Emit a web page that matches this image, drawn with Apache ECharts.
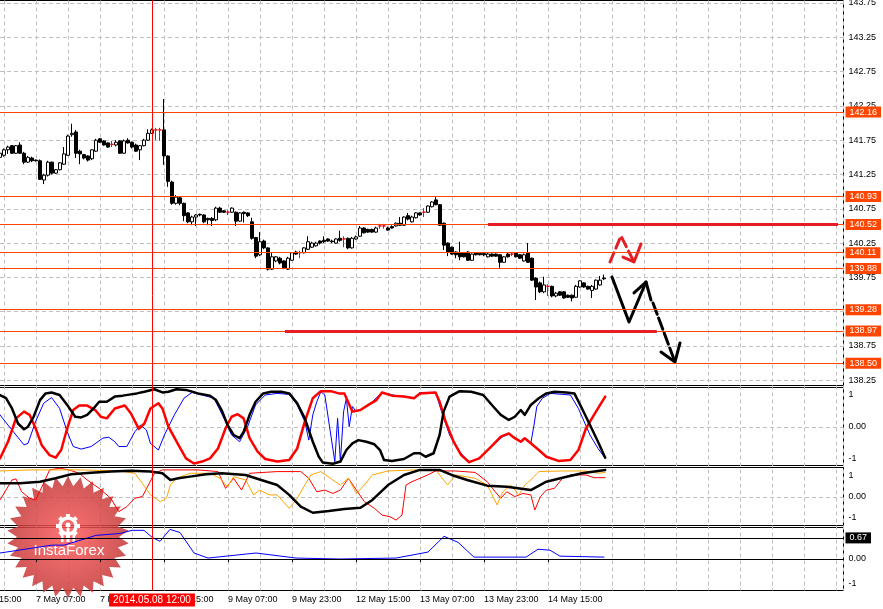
<!DOCTYPE html>
<html><head><meta charset="utf-8">
<script src="https://cdn.jsdelivr.net/npm/echarts@6/dist/echarts.min.js"></script>
<style>html,body{margin:0;padding:0;background:#fff;}#c{width:883px;height:609px;}</style>
</head><body><div id="c"></div>
<script>
// ================= DATA =================
// H1 bars, first visible bar = 2014.05.06 22:00 (bar 0). Axis slot = bar + BAR_OFFSET (slot 0 = 6 May 15:00)
const BAR_OFFSET = 7;
const xTickLabels = ['6 May 15:00','7 May 07:00','7 May 23:00','8 May 15:00','9 May 07:00','9 May 23:00','12 May 15:00','13 May 07:00','13 May 23:00','14 May 15:00'];
const xTickStep = 16;   // bars between time labels
const priceTicks = [138.25,138.75,139.25,139.75,140.25,140.75,141.25,141.75,142.25,142.75,143.25,143.75];
// [open, close, low, high]
const candles = [
[141.50,141.56,141.47,141.58],[141.53,141.61,141.51,141.63],[141.61,141.65,141.55,141.67],[141.67,141.56,141.55,141.68],[141.56,141.67,141.55,141.68],
[141.68,141.56,141.55,141.72],[141.56,141.43,141.40,141.58],[141.43,141.50,141.42,141.52],[141.49,141.45,141.43,141.51],[141.46,141.45,141.44,141.47],
[141.45,141.18,141.17,141.47],[141.17,141.24,141.11,141.26],[141.24,141.43,141.22,141.45],[141.43,141.27,141.25,141.44],[141.27,141.32,141.26,141.33],
[141.32,141.42,141.31,141.43],[141.40,141.55,141.39,141.65],[141.53,141.81,141.52,141.83],[141.83,141.85,141.80,141.99],[141.87,141.56,141.49,141.90],
[141.59,141.55,141.40,141.61],[141.54,141.49,141.47,141.55],[141.52,141.46,141.44,141.53],[141.48,141.61,141.46,141.62],[141.59,141.75,141.58,141.77],
[141.77,141.72,141.71,141.78],[141.74,141.68,141.67,141.75],[141.71,141.65,141.64,141.72],[141.69,141.69,141.65,141.74],[141.68,141.72,141.66,141.75],
[141.74,141.56,141.55,141.75],[141.56,141.74,141.55,141.76],[141.75,141.71,141.70,141.78],[141.72,141.65,141.63,141.73],[141.68,141.59,141.58,141.70],
[141.61,141.67,141.46,141.68],[141.67,141.75,141.66,141.77],[141.75,141.85,141.74,141.91],[141.85,141.90,141.84,141.92],[141.90,141.90,141.75,141.93],
[141.90,141.90,141.74,141.93],[141.90,141.52,141.39,142.35],[141.52,141.15,141.07,141.53],[141.14,140.83,140.81,141.16],[140.83,140.92,140.81,140.95],
[140.91,140.83,140.80,140.93],[140.83,140.65,140.57,140.84],[140.69,140.56,140.54,140.70],[140.56,140.63,140.51,140.65],[140.63,140.66,140.50,140.67],
[140.67,140.66,140.64,140.68],[140.66,140.56,140.54,140.67],[140.61,140.59,140.51,140.62],[140.61,140.58,140.50,140.63],[140.59,140.76,140.57,140.78],
[140.76,140.70,140.69,140.78],[140.72,140.70,140.69,140.73],[140.70,140.70,140.66,140.73],[140.70,140.76,140.69,140.77],[140.70,140.57,140.50,140.71],
[140.57,140.69,140.56,140.70],[140.70,140.68,140.55,140.71],[140.69,140.65,140.63,140.70],[140.56,140.32,140.30,140.62],[140.33,140.06,140.03,140.34],
[140.08,140.27,140.06,140.41],[140.28,140.18,140.16,140.30],[140.18,139.87,139.85,140.19],[139.87,140.05,139.86,140.12],[139.99,140.05,139.97,140.06],
[140.03,139.96,139.94,140.05],[139.99,139.89,139.87,140.00],[139.87,140.03,139.86,140.05],[140.00,140.11,139.99,140.12],[140.12,140.09,140.08,140.14],
[140.11,140.11,140.03,140.14],[140.11,140.18,140.10,140.19],[140.16,140.27,140.15,140.35],[140.19,140.25,140.18,140.27],[140.21,140.25,140.20,140.27],
[140.28,140.25,140.23,140.29],[140.29,140.27,140.25,140.35],[140.31,140.28,140.27,140.32],[140.28,140.27,140.25,140.30],[140.25,140.31,140.24,140.32],
[140.32,140.29,140.27,140.43],[140.31,140.31,140.19,140.35],[140.32,140.18,140.16,140.33],[140.18,140.32,140.17,140.34],[140.31,140.34,140.30,140.36],
[140.35,140.47,140.34,140.50],[140.47,140.40,140.39,140.48],[140.45,140.41,140.40,140.46],[140.45,140.41,140.40,140.46],[140.41,140.47,140.40,140.49],
[140.50,140.50,140.46,140.53],[140.50,140.50,140.46,140.53],[140.47,140.44,140.43,140.49],[140.49,140.47,140.46,140.51],[140.50,140.54,140.49,140.55],
[140.54,140.51,140.50,140.63],[140.51,140.63,140.50,140.64],[140.65,140.60,140.58,140.69],[140.56,140.63,140.55,140.65],[140.62,140.69,140.61,140.70],
[140.69,140.66,140.65,140.70],[140.70,140.70,140.63,140.76],[140.70,140.79,140.69,140.80],[140.78,140.85,140.77,140.86],[140.88,140.81,140.80,140.92],
[140.81,140.51,140.50,140.82],[140.54,140.22,140.15,140.55],[140.25,140.12,140.06,140.26],[140.19,140.09,140.08,140.20],[140.12,140.08,140.03,140.13],
[140.11,140.05,140.00,140.27],[140.11,140.05,140.04,140.12],[140.12,140.00,139.99,140.13],[140.00,140.09,139.99,140.10],[140.11,140.08,140.07,140.12],
[140.10,140.08,140.07,140.12],[140.10,140.08,140.06,140.12],[140.05,140.09,140.04,140.11],[140.09,140.06,140.05,140.10],[140.09,140.06,140.05,140.10],
[140.08,139.97,139.89,140.09],[139.97,140.05,139.96,140.06],[140.09,140.05,140.04,140.11],[140.09,140.09,140.06,140.12],[140.11,140.05,140.04,140.12],
[140.08,140.03,140.02,140.09],[139.99,140.08,139.98,140.10],[140.11,139.97,139.96,140.25],[140.03,139.71,139.70,140.04],[139.74,139.61,139.42,139.75],
[139.67,139.54,139.52,139.69],[139.54,139.64,139.52,139.76],[139.62,139.62,139.48,139.65],[139.62,139.48,139.46,139.63],[139.48,139.52,139.46,139.54],
[139.54,139.49,139.48,139.55],[139.54,139.45,139.44,139.55],[139.49,139.46,139.45,139.50],[139.49,139.45,139.40,139.50],[139.46,139.62,139.45,139.64],
[139.61,139.70,139.60,139.71],[139.67,139.61,139.60,139.68],[139.62,139.58,139.57,139.63],[139.56,139.62,139.45,139.64],[139.58,139.71,139.57,139.72],
[139.64,139.71,139.63,139.77],[139.74,139.73,139.71,139.79]
];
const levelLines = [142.16,140.93,140.52,140.11,139.88,139.28,138.97,138.50];
const lastPrice = 139.73;
// thick red trend segments: [[bar, price],[bar, price]]
const trendSegments = [[[122,140.52],[209.5,140.52]],[[71.25,138.97],[164.2,138.97]]];
// forecast arrows [bar, price]
const redPath  = [[152.5,139.975],[155.25,140.353],[158.5,139.975]];
const redHead  = [[155.75,140.047],[158.5,139.975],[160.25,140.237]];
const blkPath  = [[153,139.756],[157.25,139.10],[161.5,139.683]];
const blkHead  = [[158.5,139.523],[161.5,139.683],[162.75,139.42]];
const blkDash  = [[163.25,139.377],[168.75,138.517]];
const blkDashHead = [[165.25,138.663],[168.75,138.517],[170,138.794]];
const markerBar = 38, markerLabel = '2014.05.08 12:00';
// oscillator panel 2 [bar, value]
const osc2Black = [[0,1.0],[1.5,0.9],[3,0.58],[4.5,0.11],[6,-0.07],[7,0.01],[8.4,0.32],[10,0.84],[11.4,1.05],[12.9,1.08],[14.9,1.0],[16.8,0.69],[18.8,0.32],[20.3,0.30],[21.8,0.38],[23.8,0.64],[24.8,0.79],[26.7,0.79],[28.7,0.95],[30.7,0.98],[32.7,1.02],[34.2,1.05],[36.1,1.10],[38.6,1.18],[40.6,1.08],[42.1,1.10],[44.1,1.18],[46.5,1.16],[49.5,1.05],[52.5,0.98],[54,0.84],[55.4,0.53],[56.9,0.06],[58.4,-0.25],[59.9,-0.35],[60.9,-0.15],[62.4,0.38],[63.9,0.79],[65.8,1.05],[67.8,1.10],[70.3,1.10],[72.3,1.05],[74.3,0.74],[76.2,0.27],[78.2,-0.46],[79.7,-0.93],[80.7,-1.11],[83.2,-1.15],[85.1,-1.08],[86.6,-0.72],[88.1,-0.51],[89.6,-0.41],[91.6,-0.46],[93.6,-0.54],[95,-0.72],[96,-1.03],[98,-1.06],[101,-1.0],[103.5,-0.82],[105,-0.82],[106.4,-0.93],[108.4,-0.82],[109.9,-0.25],[110.9,0.48],[112.4,0.95],[114.9,1.12],[117.8,1.10],[120.8,1.0],[123.3,0.64],[125.2,0.38],[127.2,0.22],[128.7,0.32],[130.2,0.53],[131.2,0.38],[132.7,0.69],[134.7,0.9],[136.6,1.05],[138.6,1.10],[141.6,1.08],[143.6,1.05],[145.5,0.58],[147.5,0.06],[149.5,-0.46],[151.3,-0.96]];
const osc2Red = [[0,-0.98],[2,-0.46],[4,0.27],[6,0.48],[7.4,0.38],[8.9,-0.04],[10.4,-0.56],[12.4,-0.88],[13.9,-0.96],[15.3,-0.72],[16.8,-0.04],[18.3,0.53],[19.8,0.67],[21.8,0.67],[23.8,0.53],[25.2,0.32],[26.7,0.27],[28.7,0.58],[31.2,0.67],[32.7,0.43],[34.7,-0.06],[36.1,0.11],[37.6,0.58],[39.6,0.74],[40.6,0.58],[42.1,0.01],[44.6,-0.56],[46.5,-0.98],[48.5,-1.14],[50.5,-1.08],[52.5,-0.98],[54.5,-0.67],[56.4,-0.04],[57.9,0.32],[59.4,0.40],[60.9,0.27],[62.4,-0.35],[64.4,-0.77],[66.3,-1.0],[69.3,-1.08],[72.3,-1.03],[74.3,-0.67],[76.2,0.17],[78.2,0.9],[80.2,1.12],[82.7,1.12],[84.7,1.05],[86.1,1.05],[88.1,0.48],[90.1,0.53],[92.1,0.69],[94.1,0.84],[95.5,1.08],[98,0.98],[101,0.95],[103.5,0.9],[105,1.05],[108.9,1.08],[109.9,0.79],[111.4,0.17],[113.4,-0.46],[115.3,-0.88],[117.3,-1.10],[119.8,-0.98],[122.8,-0.61],[125.2,-0.30],[127.2,-0.2],[128.7,-0.35],[130.2,-0.46],[131.2,-0.35],[132.7,-0.51],[134.7,-0.72],[136.6,-0.93],[139.6,-1.06],[142.6,-1.03],[144.6,-0.72],[146.5,-0.04],[148.5,0.38],[151.3,0.95]];
const osc2Blue = [[0,0.38],[2,0.06],[4,-0.25],[6,-0.56],[7,-0.51],[8.9,0.17],[10.9,0.74],[12.9,0.92],[14.9,0.58],[16.8,-0.15],[18.3,-0.61],[20.3,-0.69],[22.8,-0.61],[25.7,-0.35],[27.2,-0.32],[28.7,-0.46],[29.7,-0.61],[31.7,-0.61],[33.7,-0.15],[35.1,0.06],[36.6,-0.09],[37.6,-0.51],[39.6,-0.72],[41.1,-0.25],[43.6,0.38],[46,0.9],[48,1.08],[50.5,1.0],[53.5,0.9],[56,0.27],[57.9,-0.25],[59.9,-0.46],[61.9,0.01],[63.9,0.69],[66.3,1.0],[69.3,1.05],[72.3,1.02],[74.3,0.69],[76.2,0.17],[77.2,-0.41],[78.2,0.38],[79.2,0.79],[80.2,1.10],[81.2,1.0],[82.7,-0.25],[83.7,-1.08],[84.4,0.27],[85.1,-1.08],[85.9,0.48],[86.6,0.9],[87.3,0.01],[88.1,0.64],[89.1,0.48],[92.1,0.67],[95.5,1.08],[99,0.98],[103.5,0.9],[105,1.08],[108.9,1.08],[110.4,0.48],[112.4,-0.25],[114.9,-0.77],[117.3,-1.10],[119.8,-0.98],[123.3,-0.56],[125.7,-0.30],[127.2,-0.23],[128.7,-0.33],[130.2,-0.44],[131.2,-0.35],[132.7,-0.51],[133.5,0.06],[134.2,0.64],[135.6,0.9],[137.6,1.05],[140.6,1.02],[142.6,1.0],[144.6,0.58],[147.5,-0.25],[149.5,-0.67],[151.3,-0.98]];
// oscillator panel 3
const osc3Black = [[0,0.65],[5,0.65],[10,0.73],[13.9,0.89],[17.8,1.08],[22.8,1.16],[27.7,1.21],[32.7,1.25],[37.6,1.21],[40.6,1.13],[42.6,0.81],[44.6,0.89],[47.5,0.97],[51.5,1.08],[55.4,1.13],[61.4,1.05],[65.3,0.81],[69.3,0.57],[72.3,0.10],[75.2,-0.46],[78.2,-0.75],[82.2,-0.67],[86.1,-0.57],[90.1,-0.51],[93.1,-0.14],[97,0.57],[101,1.05],[105,1.29],[109.9,1.29],[112.9,1.05],[116.8,0.81],[121.8,0.54],[126.7,0.49],[132.7,0.33],[136.6,0.73],[140.6,0.92],[145.5,1.13],[151.3,1.29]];
const osc3Red = [[0,-0.14],[1.5,0.33],[3,0.81],[4,0.86],[5.4,0.25],[7.4,-0.06],[8.9,-0.14],[10.9,0.65],[12.4,1.29],[14.9,1.37],[17.3,1.29],[19.8,1.13],[21.8,0.81],[24.8,0.41],[27.7,-0.06],[29.7,-0.70],[31.7,-0.46],[33.7,-0.06],[35.6,0.02],[37.1,0.57],[38.6,1.13],[40.6,1.29],[49.5,1.29],[54.5,1.21],[56.4,0.41],[58.4,0.89],[60.4,0.33],[62.4,1.13],[69.3,1.21],[75.2,1.21],[77.2,0.89],[79.2,0.25],[81.2,0.33],[83.2,0.17],[85.1,0.33],[87.1,0.89],[89.1,0.33],[91.1,-0.22],[93.6,-0.54],[95.5,-0.86],[97.5,-0.94],[99,-1.10],[100.5,-0.86],[101.5,0.57],[103,0.73],[105,0.89],[106.9,1.05],[108.9,1.24],[113.9,1.24],[118.8,1.17],[121.8,0.73],[123.8,0.25],[125.2,-0.06],[126.7,0.25],[128.7,0.02],[130.7,0.17],[132.7,0.10],[133.7,-0.62],[135.1,0.02],[136.6,0.33],[138.6,0.41],[140.6,0.89],[142.6,1.05],[146.5,1.05],[148.5,0.92],[151.3,0.92]];
const osc3Orange = [[0,1.24],[7.9,1.29],[19.8,1.29],[29.7,1.24],[33.7,1.13],[35.6,0.65],[37.6,0.10],[40.1,-0.22],[41.6,-0.06],[42.6,0.57],[44.1,0.89],[47.5,1.13],[52.5,1.13],[55,0.89],[56.9,0.49],[58.4,0.97],[61.4,0.81],[63.4,0.10],[64.9,0.33],[67.3,0.10],[69.3,0.10],[72.3,-0.54],[74.3,-0.06],[76.2,0.57],[77.7,1.05],[80.2,1.21],[83.2,0.81],[85.1,0.57],[87.1,0.89],[89.1,0.17],[91.1,0.57],[93.1,1.05],[97,1.24],[104,1.29],[108.9,1.29],[111.9,0.57],[113.9,1.05],[118.8,0.89],[121.8,0.57],[124.3,-0.38],[125.7,0.25],[127.7,0.57],[129.7,0.10],[131.2,0.57],[132.7,0.81],[134.7,1.21],[140.6,1.24],[146.5,1.24],[149.5,1.13],[151.3,1.17]];
// oscillator panel 4
const osc4Blue = [[0,0.19],[13,0.44],[16,0.44],[24,0.75],[30,0.81],[33,0.91],[36,0.91],[38,0.69],[40,0.56],[42.5,0.94],[45,0.84],[48.5,0.19],[52,0.03],[64,0.19],[74,0.03],[85,0.0],[99,0.03],[107,0.22],[111,0.72],[114.5,0.53],[118.5,0.06],[131.5,0.06],[134.5,0.31],[137.5,0.28],[140,0.09],[151,0.06]];
const osc4Level = 0.67;

// ================= CHART =================
const FONT = 'Liberation Sans';
const GRID_COL = '#C0C0C0';
const LEVEL_COL = '#FF4500';
const S = BAR_OFFSET;
const XMAX = 217.875;
const toXY = a => a.map(p => [p[0] + S, p[1]]);

const gridBase = {left: -28, right: 39.5, outerBoundsMode: 'none', containLabel: false};
const grids = [
  Object.assign({top: 0.5, height: 590}, gridBase),
  Object.assign({top: 0.5, height: 385, show: true, borderColor: '#000', borderWidth: 1, backgroundColor: 'transparent'}, gridBase),
  Object.assign({top: 387.5, height: 78, show: true, borderColor: '#000', borderWidth: 1, backgroundColor: 'transparent'}, gridBase),
  Object.assign({top: 467.5, height: 58, show: true, borderColor: '#000', borderWidth: 1, backgroundColor: 'transparent'}, gridBase),
  Object.assign({top: 527.5, height: 63, show: true, borderColor: '#000', borderWidth: 1, backgroundColor: 'transparent'}, gridBase)
];

const hiddenX = i => ({type: 'value', gridIndex: i, min: 0, max: XMAX, show: false});
const tickSlots = xTickLabels.map((_, k) => k * xTickStep);
const xAxes = [
  {type: 'value', gridIndex: 0, min: 0, max: XMAX, interval: 8, axisLine: {show: false}, axisTick: {show: false}, axisLabel: {show: false},
   splitLine: {show: true, lineStyle: {color: GRID_COL, type: [4, 3], width: 1}}},
  hiddenX(1), hiddenX(2), hiddenX(3),
  {type: 'value', gridIndex: 4, min: 0, max: XMAX, position: 'bottom', z: 4,
   axisLine: {show: true, lineStyle: {color: '#000', width: 1}},
   axisTick: {show: true, customValues: tickSlots, length: 3, lineStyle: {color: '#000'}},
   axisLabel: {show: true, customValues: tickSlots, formatter: v => xTickLabels[Math.round(v / xTickStep)] || '', align: 'left', color: '#000', fontSize: 9, fontFamily: FONT, margin: 5},
   splitLine: {show: false}}
];

const yLabel = {color: '#000', fontSize: 9, fontFamily: FONT, margin: 5};
const oscFmt = v => v === 0 ? '0.00' : String(v);
const yAxes = [
  {type: 'value', gridIndex: 0, min: 0, max: 1, show: false},
  {type: 'value', gridIndex: 1, position: 'right', min: 143.75 - 382.5 / 68.6, max: 143.75 + 2.5 / 68.6,
   axisLine: {show: true, lineStyle: {color: '#000'}},
   axisTick: {show: true, customValues: priceTicks, length: 4, lineStyle: {color: '#000'}},
   axisLabel: Object.assign({customValues: priceTicks, formatter: v => v.toFixed(2)}, yLabel),
   splitLine: {show: true, lineStyle: {color: GRID_COL, type: [4, 3]}}},
  {type: 'value', gridIndex: 2, position: 'right', min: -38.5 / 32, max: 39.5 / 32,
   axisLine: {show: true, lineStyle: {color: '#000'}},
   axisTick: {show: true, customValues: [0], length: 4, lineStyle: {color: '#000'}},
   axisLabel: Object.assign({customValues: [-1, 0, 1], formatter: oscFmt}, yLabel),
   splitLine: {show: true, lineStyle: {color: GRID_COL, type: [4, 3]}}},
  {type: 'value', gridIndex: 3, position: 'right', min: -28.5 / 21, max: 29.5 / 21,
   axisLine: {show: true, lineStyle: {color: '#000'}},
   axisTick: {show: true, customValues: [0], length: 4, lineStyle: {color: '#000'}},
   axisLabel: Object.assign({customValues: [-1, 0, 1], formatter: oscFmt}, yLabel),
   splitLine: {show: true, lineStyle: {color: GRID_COL, type: [4, 3]}}},
  {type: 'value', gridIndex: 4, position: 'right', min: -1, max: 1,
   axisLine: {show: true, lineStyle: {color: '#000'}},
   axisTick: {show: true, customValues: [0], length: 4, lineStyle: {color: '#000'}},
   axisLabel: Object.assign({customValues: [-1, 0], formatter: v => v === 0 ? '0.00' : '{up|' + v + '}',
     rich: {up: {padding: [0, 0, 14, 0], fontSize: 9, fontFamily: FONT, color: '#000'}}}, yLabel),
   splitLine: {show: true, lineStyle: {color: GRID_COL, type: [4, 3]}}}
];

const candleData = candles.map((c, i) => {
  const item = {value: [i + S, c[0], c[1], c[2], c[3]]};
  if (c[0] === c[1]) item.itemStyle = {color: '#FF0000', color0: '#FF0000', borderColor: '#FF0000', borderColor0: '#FF0000', borderColorDoji: '#FF0000'};
  return item;
});

const boxLabel = bg => ({show: true, position: 'end', distance: 2, formatter: p => Number(p.value).toFixed(2),
  color: '#fff', backgroundColor: bg, padding: [1, 4, 0, 4], lineHeight: 10, fontSize: 9, fontFamily: FONT});

const markData = levelLines.map(v => ({yAxis: v, lineStyle: {color: LEVEL_COL, width: 1, type: 'solid'}, label: boxLabel(LEVEL_COL)}));
markData.push({yAxis: lastPrice, lineStyle: {opacity: 0, width: 0}, label: boxLabel('#000')});
trendSegments.forEach(seg => {
  markData.push([{coord: [seg[0][0] + S, seg[0][1]], lineStyle: {color: '#E31E24', width: 3, type: 'solid'}, label: {show: false}},
                 {coord: [seg[1][0] + S, seg[1][1]]}]);
});

const lineS = (data, xi, color, width, type, extra) => Object.assign({
  type: 'line', xAxisIndex: xi, yAxisIndex: xi, data: toXY(data), symbol: 'none', showSymbol: false,
  silent: true, animation: false, clip: false,
  lineStyle: {color: color, width: width, type: type || 'solid', cap: 'round', join: 'round'}
}, extra || {});

const series = [
  {type: 'line', xAxisIndex: 0, yAxisIndex: 0, data: [[0, 0]], symbol: 'none', silent: true, clip: false,
   lineStyle: {opacity: 0},
   markLine: {silent: true, symbol: ['none', 'none'], z: 10, animation: false,
     lineStyle: {color: '#FF0000', width: 1, type: 'solid'},
     label: {show: true, position: 'start', distance: 3, formatter: markerLabel, color: '#fff', backgroundColor: '#FF0000',
       padding: [2, 4, 1, 4], fontSize: 10, fontFamily: FONT},
     data: [{xAxis: markerBar + S}]}},
  {type: 'candlestick', xAxisIndex: 1, yAxisIndex: 1, dimensions: ['t', 'open', 'close', 'lowest', 'highest'],
   encode: {x: 0, y: [1, 2, 3, 4]}, data: candleData, barWidth: 3, clip: false, silent: true,
   itemStyle: {color: '#FFFFFF', color0: '#000000', borderColor: '#000000', borderColor0: '#000000', borderColorDoji: '#FF0000', borderWidth: 1},
   markLine: {silent: true, symbol: ['none', 'none'], animation: false, data: markData}},
  lineS(redPath, 1, '#E31E24', 3, [10, 5]),
  lineS(redHead, 1, '#E31E24', 3),
  lineS(blkPath, 1, '#000', 3),
  lineS(blkHead, 1, '#000', 3),
  lineS(blkDash, 1, '#000', 3, [12, 4]),
  lineS(blkDashHead, 1, '#000', 3),
  lineS(osc2Blue, 2, '#0000FF', 1),
  lineS(osc2Red, 2, '#FF0000', 2.5),
  lineS(osc2Black, 2, '#000', 2.5),
  lineS(osc3Red, 3, '#FF0000', 1),
  lineS(osc3Orange, 3, '#FFA500', 1),
  lineS(osc3Black, 3, '#000', 2.5),
  lineS(osc4Blue, 4, '#0000FF', 1, null, {
    markLine: {silent: true, symbol: ['none', 'none'], animation: false,
      data: [{yAxis: osc4Level, lineStyle: {color: '#000', width: 1, type: 'solid'},
        label: {show: true, position: 'end', distance: 2, formatter: osc4Level.toFixed(2), color: '#fff', backgroundColor: '#000',
          padding: [1, 4, 0, 4], lineHeight: 10, fontSize: 9, fontFamily: FONT}}]}})
];

// ---- InstaForex logo (decoration) ----
function star(cx, cy, rOut, rIn, n) {
  const pts = [];
  for (let k = 0; k < n * 2; k++) {
    const a = Math.PI * k / n - Math.PI / 2;
    const r = k % 2 === 0 ? rOut : rIn;
    pts.push([cx + r * Math.cos(a), cy + r * Math.sin(a)]);
  }
  return pts;
}
const LX = 68, LY = 537;
const gear = [];
for (let k = 0; k < 8; k++) {
  gear.push({type: 'rect', shape: {x: -2, y: -12, width: 4, height: 5}, rotation: k * Math.PI / 4, x: LX, y: LY - 11,
    style: {fill: '#fff'}, z: 3, silent: true});
}
const graphic = [
  {type: 'polygon', shape: {points: star(LX, LY, 61, 51, 30)}, z: 3, silent: true,
   style: {fill: {type: 'radial', x: 0.5, y: 0.5, r: 0.5, colorStops: [{offset: 0, color: 'rgba(255,90,90,0.85)'}, {offset: 1, color: 'rgba(196,56,56,0.85)'}]}}},
  {type: 'circle', shape: {cx: LX, cy: LY - 11, r: 8}, z: 3, silent: true, style: {fill: 'none', stroke: '#fff', lineWidth: 3.5}},
  ...gear,
  {type: 'circle', shape: {cx: LX, cy: LY - 12, r: 2.5}, z: 3, silent: true, style: {fill: '#fff'}},
  {type: 'rect', shape: {x: LX - 1.5, y: LY - 9, width: 3, height: 14}, z: 3, silent: true, style: {fill: '#fff'}},
  {type: 'rect', shape: {x: LX - 7, y: LY - 5, width: 2.5, height: 10}, z: 3, silent: true, style: {fill: '#fff'}},
  {type: 'rect', shape: {x: LX + 4.5, y: LY - 5, width: 2.5, height: 10}, z: 3, silent: true, style: {fill: '#fff'}},
  {type: 'text', x: LX + 1, y: LY + 14, z: 3, silent: true,
   style: {text: 'InstaForex', fill: '#fff', font: '15px "Liberation Sans"', align: 'center', verticalAlign: 'middle', textAlign: 'center', textVerticalAlign: 'middle'}}
];

const chart = echarts.init(document.getElementById('c'), null, {renderer: 'canvas'});
chart.setOption({
  animation: false,
  backgroundColor: '#FFFFFF',
  textStyle: {fontFamily: FONT},
  grid: grids, xAxis: xAxes, yAxis: yAxes, series: series, graphic: graphic
});
</script>
</body></html>
